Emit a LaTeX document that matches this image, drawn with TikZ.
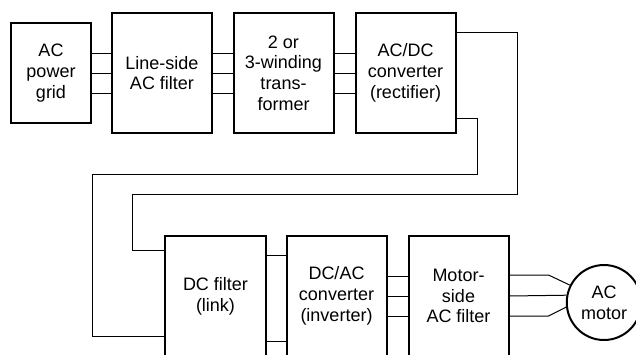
\documentclass[tikz,border=0pt]{standalone}
\usepackage{fontspec}
\setmainfont{Liberation Sans}
\usetikzlibrary{shapes.geometric}

\begin{document}
\begin{tikzpicture}[
  x=1pt, y=-1pt,
  box/.style={draw, line width=2pt, minimum width=100pt, minimum height=120pt, align=center, font=\fontsize{18}{20.7}\selectfont},
  wire/.style={line width=1pt},
]
\clip (0,0) rectangle (636,354);

\node[box, minimum width=80pt, minimum height=100pt] (grid) at (51,73) {AC\\power\\grid};
\node[box] (lfilt) at (162,73)   {Line-side\\AC filter};
\node[box] (trafo) at (283.5,73) {2 or\\3-winding\\trans-\\former};
\node[box] (rect)  at (405.5,73) {AC/DC\\converter\\(rectifier)};

\node[box, minimum width=101pt] (dclink) at (215.5,296) {DC filter\\(link)};
\node[box] (inv)   at (336.5,296) {DC/AC\\converter\\(inverter)};
\node[box] (mfilt) at (458.5,296) {Motor-\\side\\AC filter};
\node[box, ellipse, minimum width=64pt, minimum height=75pt] (motor) at (604,302.5) {AC\\motor};

\foreach \d in {-20,0,20} {
  \draw[wire] ([yshift=\d pt]grid.east)  -- ([yshift=\d pt]lfilt.west);
  \draw[wire] ([yshift=\d pt]lfilt.east) -- ([yshift=\d pt]trafo.west);
  \draw[wire] ([yshift=\d pt]trafo.east) -- ([yshift=\d pt]rect.west);
  \draw[wire] ([yshift=\d pt]inv.east)   -- ([yshift=\d pt]mfilt.west);
}

\draw[wire] ([yshift=41pt]rect.east) -| (517,194) -| (132,250) -- ([yshift=46pt]dclink.west);
\draw[wire] ([yshift=-45pt]rect.east) -| (477,174) -| (92,336) -- ([yshift=-40pt]dclink.west);

\draw[wire] ([yshift=41pt]dclink.east) -- ([yshift=41pt]inv.west);
\draw[wire] ([yshift=-45pt]dclink.east) -- ([yshift=-45pt]inv.west);

\draw[wire] ([yshift=21pt]mfilt.east) -- ++(39,0) -- (motor.153);
\draw[wire] (mfilt.east) -- (motor.169);
\draw[wire] ([yshift=-20pt]mfilt.east) -- ++(39,0) -- (motor.187);
\end{tikzpicture}
\end{document}
